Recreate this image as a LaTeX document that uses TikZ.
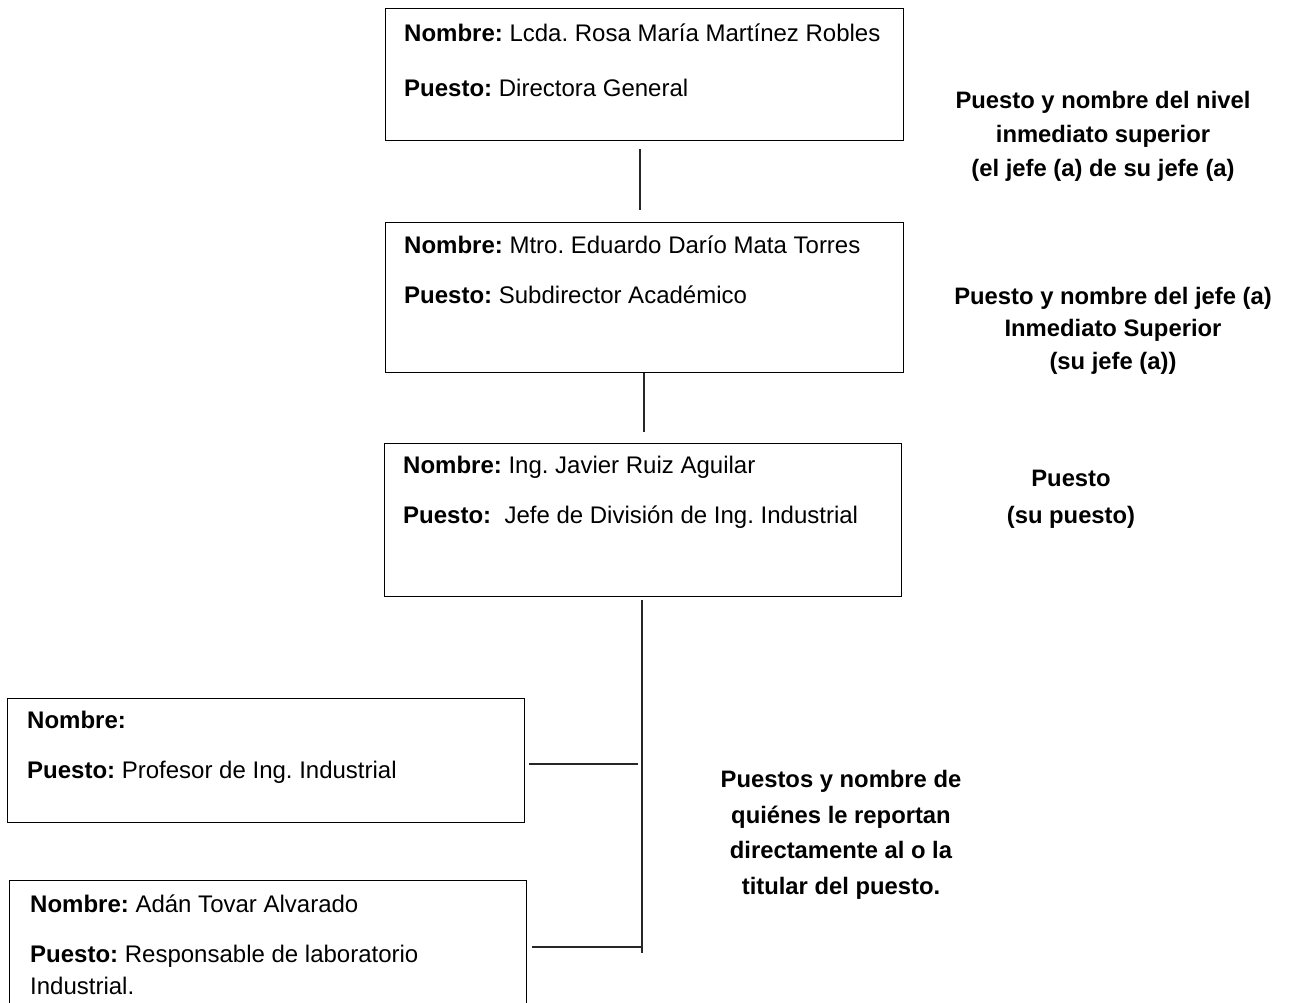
\documentclass[tikz,border=0pt]{standalone}
\usepackage{fontspec}
\setmainfont{Liberation Sans}
\frenchspacing
\begin{document}
\begin{tikzpicture}[x=1pt,y=-1pt,
  box/.style={draw=black, line width=1.2pt, rectangle, inner sep=0pt, anchor=north west},
  txt/.style={anchor=base west, inner sep=0pt, font=\fontsize{24}{32}\selectfont},
  note/.style={anchor=north, inner sep=0pt, align=center},
  conn/.style={draw=black!85, line width=1.4pt}]
\useasboundingbox (0,0) rectangle (1292,1002);
% boxes
\node[box, minimum width=518pt, minimum height=132pt] (b1) at (385,8) {};
\node[box, minimum width=518pt, minimum height=150pt] (b2) at (385,222) {};
\node[box, minimum width=517pt, minimum height=153pt] (b3) at (384,443) {};
\node[box, minimum width=517pt, minimum height=124pt] (b4) at (7,698) {};
\node[box, minimum width=517pt, minimum height=140pt] (b5) at (9,880) {};
% box texts
\node[txt] (n1) at (404,41) {\textbf{Nombre:} Lcda. Rosa María Martínez Robles};
\node[txt] (p1) at (404,96) {\textbf{Puesto:} Directora General};
\node[txt] (n2) at (404,253) {\textbf{Nombre:} Mtro. Eduardo Darío Mata Torres};
\node[txt] (p2) at (404,303) {\textbf{Puesto:} Subdirector Académico};
\node[txt] (n3) at (403,473) {\textbf{Nombre:} Ing. Javier Ruiz Aguilar};
\node[txt] (p3) at (403,523) {\textbf{Puesto:}\ \ Jefe de División de Ing. Industrial};
\node[txt] (n4) at (27,728) {\textbf{Nombre:}};
\node[txt] (p4) at (27,778) {\textbf{Puesto:} Profesor de Ing. Industrial};
\node[txt] (n5) at (30,912) {\textbf{Nombre:} Adán Tovar Alvarado};
\node[txt] (p5) at (30,962) {\textbf{Puesto:} Responsable de laboratorio};
\node[txt] (p5b) at (30,994) {Industrial.};
% notes
\node[note, font=\fontsize{23.8}{34}\selectfont\bfseries] (r1) at (1103,91) {Puesto y nombre del nivel\\inmediato superior\\(el jefe (a) de su jefe (a)};
\node[note, font=\fontsize{23.8}{32.5}\selectfont\bfseries] (r2) at (1113,287) {Puesto y nombre del jefe (a)\\Inmediato Superior\\(su jefe (a))};
\node[note, font=\fontsize{23.8}{37}\selectfont\bfseries] (r3) at (1071,470) {Puesto\\(su puesto)};
\node[note, font=\fontsize{23.8}{35.7}\selectfont\bfseries] (r4) at (841,770) {Puestos y nombre de\\quiénes le reportan\\directamente al o la\\titular del puesto.};
% connectors
\coordinate (c1a) at (640,149);
\coordinate (c1b) at (640,210);
\coordinate (c2b) at (644,432);
\coordinate (c3a) at (642,600);
\coordinate (c3b) at (642,953);
\coordinate (h1) at (638,764);
\coordinate (h2) at (641,947);
\draw[conn] (c1a) -- (c1b);
\draw[conn] (b2.south -| c2b) -- (c2b);
\draw[conn] (c3a) -- (c3b);
\draw[conn] ([xshift=4pt]b4.east |- h1) -- (h1);
\draw[conn] ([xshift=5pt]b5.east |- h2) -- (h2);
\end{tikzpicture}
\end{document}
